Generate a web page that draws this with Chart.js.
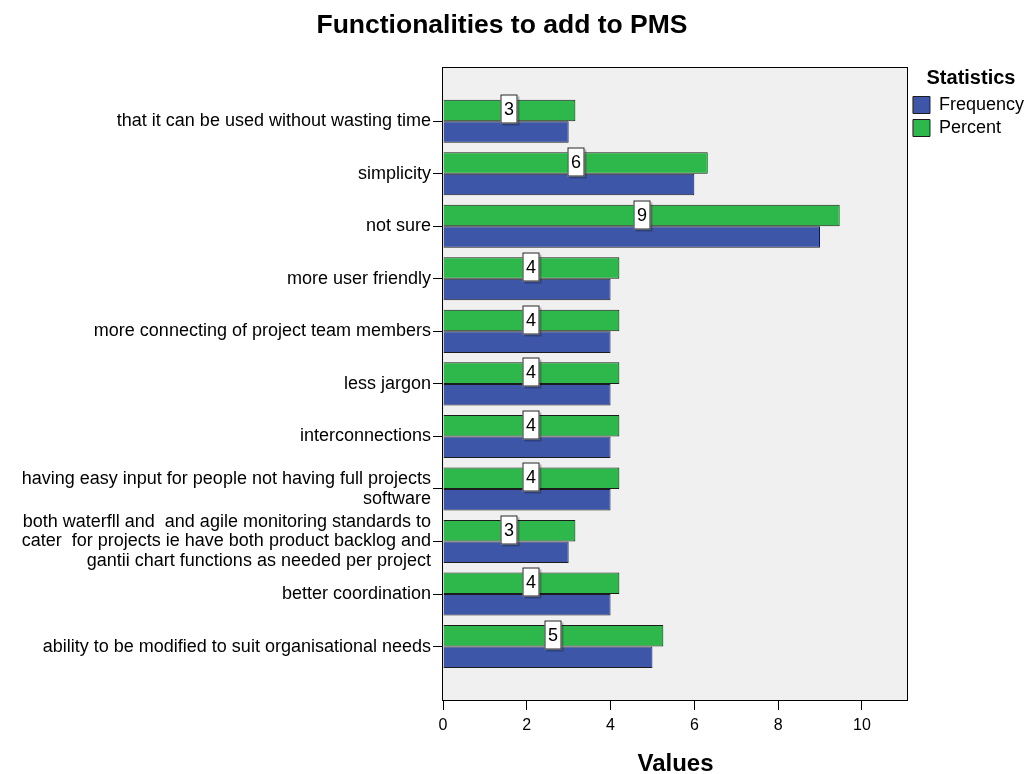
<!DOCTYPE html>
<html>
<head>
<meta charset="utf-8">
<script src="https://cdn.jsdelivr.net/npm/chart.js"></script>
<style>
  html, body { margin: 0; padding: 0; background: #fff; }
  #wrap { width: 1026px; height: 774px; }
</style>
</head>
<body>
<div id="wrap"><canvas id="myChart" width="1026" height="774"></canvas></div>
<script>
// categories, top to bottom
const categories = [
  'that it can be used without wasting time',
  'simplicity',
  'not sure',
  'more user friendly',
  'more connecting of project team members',
  'less jargon',
  'interconnections',
  ['having easy input for people not having full projects', 'software'],
  ['both waterfll and  and agile monitoring standards to', 'cater  for projects ie have both product backlog and', 'gantii chart functions as needed per project'],
  'better coordination',
  'ability to be modified to suit organisational needs'
];
const frequency = [3, 6, 9, 4, 4, 4, 4, 4, 3, 4, 5];
const percent = [3.16, 6.32, 9.47, 4.21, 4.21, 4.21, 4.21, 4.21, 3.16, 4.21, 5.26];
const xTicks = [0, 2, 4, 6, 8, 10];

const FONT = '"Liberation Sans", Arial, sans-serif';

// grey plot background and black frame
const plotFrame = {
  id: 'plotFrame',
  afterLayout(chart) {
    // title sits a bit left of the canvas centre
    const t = chart.titleBlock;
    if (t) { t.left -= 15; t.right -= 15; }
  },
  beforeDatasetsDraw(chart) {
    const {ctx, chartArea: a} = chart;
    ctx.save();
    ctx.fillStyle = '#f0f0f0';
    ctx.fillRect(a.left, a.top, a.right - a.left, a.bottom - a.top);
    ctx.restore();
  },
  afterDatasetsDraw(chart) {
    const {ctx, chartArea: a} = chart;
    ctx.save();
    ctx.strokeStyle = '#000';
    ctx.lineWidth = 1;
    ctx.strokeRect(Math.round(a.left) - 0.5, Math.round(a.top) - 0.5, Math.round(a.right - a.left), Math.round(a.bottom - a.top) + 1);
    ctx.restore();
  }
};

// frequency count in a white box on the middle of each percent bar
const countLabels = {
  id: 'countLabels',
  afterDatasetsDraw(chart) {
    const {ctx} = chart;
    const meta = chart.getDatasetMeta(0);
    ctx.save();
    ctx.font = '18px ' + FONT;
    ctx.textAlign = 'center';
    ctx.textBaseline = 'middle';
    meta.data.forEach((bar, i) => {
      const cx = Math.round((bar.base + bar.x) / 2);
      const cy = Math.round(bar.y) - 1;
      const w = 17, h = 29;
      ctx.fillStyle = 'rgba(0,0,0,0.25)';
      ctx.fillRect(cx - w / 2 + 2, cy - h / 2 + 2, w, h);
      ctx.fillStyle = '#fff';
      ctx.fillRect(cx - w / 2, cy - h / 2, w, h);
      ctx.strokeStyle = '#222';
      ctx.lineWidth = 1;
      ctx.strokeRect(cx - w / 2 + 0.5, cy - h / 2 + 0.5, w - 1, h - 1);
      ctx.fillStyle = '#000';
      ctx.fillText(String(frequency[i]), cx, cy + 1);
    });
    ctx.restore();
  }
};

new Chart(document.getElementById('myChart'), {
  type: 'bar',
  data: {
    datasets: [{
      label: 'Percent',
      data: percent.map((v, i) => ({x: v, y: i})),
      backgroundColor: '#2eb84b',
      borderColor: '#1c1c1c',
      borderWidth: 1
    }, {
      label: 'Frequency',
      data: frequency.map((v, i) => ({x: v, y: i})),
      backgroundColor: '#3d56a8',
      borderColor: '#1c1c1c',
      borderWidth: 1
    }]
  },
  options: {
    indexAxis: 'y',
    responsive: false,
    animation: false,
    layout: { padding: { top: 10, right: -8, left: 0, bottom: 0 } },
    datasets: { bar: { categoryPercentage: 0.82, barPercentage: 1 } },
    scales: {
      y: {
        type: 'linear',
        reverse: true,
        offset: false,
        min: -1.017,
        max: 11.017,
        afterBuildTicks: s => { s.ticks = categories.map((_, i) => ({value: i})); },
        afterFit: s => { s.width = 443; },
        ticks: {
          callback: v => categories[v],
          color: '#000',
          padding: 2,
          autoSkip: false,
          font: { family: FONT, size: 18, lineHeight: 1.08 }
        },
        grid: { offset: false, drawOnChartArea: false, tickLength: 10, tickColor: '#000' },
        border: { display: false }
      },
      x: {
        min: 0,
        max: 11.1,
        afterBuildTicks: s => { s.ticks = xTicks.map(v => ({value: v})); },
        afterFit: s => { s.height = 74; },
        ticks: { color: '#000', padding: 6, font: { family: FONT, size: 16 } },
        grid: { drawOnChartArea: false, tickLength: 10, tickColor: '#000' },
        border: { display: false },
        title: {
          display: true,
          text: 'Values',
          color: '#000',
          padding: { top: 0, bottom: -5 },
          font: { family: FONT, size: 24, weight: 'bold' }
        }
      }
    },
    plugins: {
      title: {
        display: true,
        text: 'Functionalities to add to PMS',
        color: '#000',
        padding: { top: 0, bottom: 26 },
        font: { family: FONT, size: 26.5, weight: 'bold' }
      },
      legend: {
        position: 'right',
        align: 'start',
        reverse: true,
        title: {
          display: true,
          text: 'Statistics',
          color: '#000',
          padding: { top: 58, bottom: -1 },
          font: { family: FONT, size: 20, weight: 'bold' }
        },
        labels: {
          color: '#000',
          boxWidth: 17,
          boxHeight: 17,
          padding: 5,
          font: { family: FONT, size: 18, lineHeight: 1 }
        }
      },
      tooltip: { enabled: false }
    }
  },
  plugins: [plotFrame, countLabels]
});
</script>
</body>
</html>
